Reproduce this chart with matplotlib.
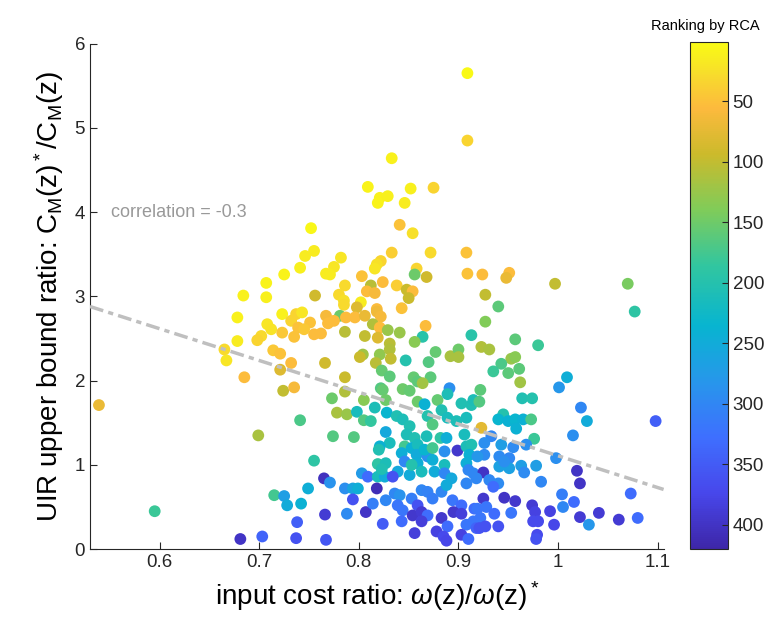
import numpy as np
import matplotlib
matplotlib.use("Agg")
import matplotlib.pyplot as plt
from matplotlib.colors import LinearSegmentedColormap

# --- Data: (input cost ratio, UIR bound ratio, RCA rank) ---
pts = [
    # top cluster
    (0.909, 5.65, 3), (0.909, 4.85, 35), (0.833, 4.64, 10), (0.809, 4.30, 8), (0.821, 4.17, 10),
    (0.829, 4.19, 12), (0.819, 4.11, 9), (0.852, 4.28, 12), (0.846, 4.11, 15), (0.875, 4.29, 35),
    # left upper group
    (0.707, 3.16, 8), (0.725, 3.26, 8), (0.684, 3.01, 10), (0.707, 2.99, 12), (0.678, 2.75, 10),
    (0.723, 2.79, 10), (0.708, 2.67, 20), (0.712, 2.61, 22), (0.702, 2.53, 30), (0.698, 2.48, 35),
    (0.723, 2.57, 45), (0.678, 2.47, 15), (0.665, 2.37, 30), (0.667, 2.24, 20), (0.714, 2.36, 45),
    (0.721, 2.32, 50), (0.721, 2.13, 80), (0.685, 2.04, 55),
    # far left / lower left
    (0.539, 1.71, 70), (0.699, 1.35, 115), (0.724, 1.88, 100), (0.595, 0.45, 180), (0.681, 0.12, 400),
    (0.703, 0.15, 340), (0.715, 0.64, 175), (0.725, 0.63, 270), (0.728, 0.52, 250),
    # middle upper
    (0.752, 3.81, 5), (0.841, 3.85, 50), (0.854, 3.75, 25), (0.746, 3.48, 15), (0.755, 3.54, 15),
    (0.741, 3.34, 12), (0.782, 3.46, 20), (0.775, 3.35, 20), (0.767, 3.27, 15), (0.771, 3.26, 15),
    (0.833, 3.52, 40), (0.872, 3.52, 30), (0.908, 3.52, 50), (0.822, 3.42, 35), (0.818, 3.38, 25),
    (0.816, 3.33, 20), (0.858, 3.33, 35), (0.909, 3.27, 50), (0.856, 3.26, 150), (0.868, 3.23, 90),
    (0.803, 3.24, 50), (0.786, 3.13, 30), (0.812, 3.13, 105), (0.824, 3.17, 55), (0.838, 3.13, 40),
    (0.848, 3.08, 95), (0.854, 3.06, 55), (0.850, 2.98, 95), (0.756, 3.01, 90), (0.780, 3.02, 30),
    (0.785, 2.95, 25), (0.808, 3.06, 55), (0.816, 3.04, 60), (0.802, 2.93, 15), (0.785, 2.90, 30),
    (0.798, 2.87, 80), (0.818, 2.85, 55), (0.843, 2.86, 50), (0.737, 2.79, 35), (0.743, 2.81, 20),
    (0.732, 2.71, 35), (0.767, 2.77, 60), (0.781, 2.77, 150), (0.787, 2.75, 55), (0.796, 2.75, 55),
    (0.806, 2.77, 70), (0.818, 2.82, 65), (0.822, 2.76, 60), (0.775, 2.71, 55), (0.769, 2.68, 55),
    (0.751, 2.69, 50), (0.739, 2.63, 50), (0.735, 2.52, 50), (0.755, 2.55, 55), (0.762, 2.56, 55),
    (0.745, 2.61, 45), (0.814, 2.67, 110), (0.821, 2.63, 55), (0.786, 2.58, 105), (0.806, 2.53, 100),
    (0.819, 2.51, 80), (0.829, 2.60, 125), (0.841, 2.57, 125), (0.867, 2.65, 55), (0.864, 2.52, 195),
    (0.856, 2.46, 135), (0.831, 2.44, 105), (0.913, 2.54, 195), (0.732, 2.21, 55), (0.766, 2.21, 90),
    (0.804, 2.31, 120), (0.801, 2.28, 95), (0.821, 2.31, 130), (0.817, 2.21, 105), (0.831, 2.37, 110),
    (0.832, 2.26, 100), (0.847, 2.24, 200), (0.870, 2.22, 165), (0.877, 2.34, 155), (0.892, 2.29, 115),
    (0.900, 2.37, 150), (0.900, 2.28, 115), (0.786, 2.04, 95), (0.823, 2.12, 155), (0.831, 2.05, 160),
    (0.855, 2.04, 155), (0.872, 2.04, 160), (0.859, 1.99, 160), (0.864, 1.97, 120), (0.822, 1.91, 165),
    (0.891, 1.91, 290), (0.735, 1.92, 60),
    # right upper
    (0.924, 3.26, 55), (0.951, 3.28, 55), (0.948, 3.22, 70), (0.997, 3.15, 100), (1.070, 3.15, 145),
    (1.077, 2.82, 190), (0.927, 3.02, 100), (0.940, 2.88, 160), (0.927, 2.70, 140), (0.957, 2.49, 160),
    (0.980, 2.42, 180), (0.923, 2.40, 110), (0.931, 2.37, 115), (0.953, 2.26, 125), (0.957, 2.28, 135),
    (0.943, 2.20, 170), (0.935, 2.11, 180), (0.950, 2.09, 160), (0.961, 2.14, 160), (0.962, 1.98, 120),
    (1.009, 2.04, 245), (1.001, 1.92, 280), (0.922, 1.89, 160),
    # dense middle-lower
    (0.773, 1.79, 150), (0.786, 1.87, 110), (0.778, 1.62, 115), (0.788, 1.60, 125), (0.805, 1.77, 135),
    (0.798, 1.63, 215), (0.824, 1.89, 155), (0.827, 1.77, 150), (0.741, 1.53, 170), (0.805, 1.53, 165),
    (0.812, 1.52, 185), (0.816, 1.68, 210), (0.828, 1.62, 235), (0.844, 1.90, 150), (0.851, 1.88, 155),
    (0.859, 1.75, 150), (0.866, 1.72, 240), (0.879, 1.77, 155), (0.889, 1.84, 210), (0.903, 1.73, 205),
    (0.913, 1.71, 205), (0.838, 1.58, 205), (0.844, 1.54, 210), (0.851, 1.46, 205), (0.869, 1.58, 200),
    (0.874, 1.48, 165), (0.883, 1.65, 205), (0.889, 1.56, 215), (0.898, 1.52, 210), (0.908, 1.56, 215),
    (0.882, 1.32, 190), (0.888, 1.32, 245), (0.906, 1.36, 215), (0.795, 1.33, 165), (0.774, 1.34, 165),
    (0.827, 1.39, 255), (0.831, 1.26, 215), (0.821, 1.22, 240), (0.820, 1.18, 205), (0.848, 1.36, 210),
    (0.856, 1.32, 205), (0.868, 1.34, 210), (0.846, 1.22, 175), (0.853, 1.20, 240), (0.859, 1.24, 215),
    (0.843, 1.14, 245), (0.858, 1.12, 250), (0.869, 1.10, 290), (0.866, 1.18, 235), (0.886, 1.16, 290),
    (0.899, 1.17, 395), (0.908, 1.22, 210), (0.913, 1.24, 205), (0.911, 1.12, 240), (0.755, 1.05, 190),
    (0.819, 1.01, 190), (0.827, 1.02, 210), (0.846, 1.04, 300), (0.859, 1.02, 245), (0.874, 1.06, 245),
    (0.886, 1.00, 215), (0.839, 0.92, 255), (0.851, 0.88, 250), (0.863, 0.92, 215), (0.876, 0.92, 250),
    (0.886, 0.90, 300), (0.893, 0.84, 255), (0.908, 1.02, 245), (0.910, 0.94, 300), (0.915, 0.90, 300),
    (0.803, 0.90, 275), (0.809, 0.86, 330), (0.819, 0.86, 215), (0.826, 0.86, 250), (0.834, 0.86, 360),
    (0.765, 0.84, 405), (0.771, 0.79, 285), (0.749, 0.72, 245), (0.742, 0.54, 240), (0.786, 0.72, 290),
    (0.794, 0.72, 260), (0.799, 0.72, 245), (0.818, 0.72, 410), (0.794, 0.59, 360), (0.807, 0.44, 400),
    (0.788, 0.42, 295), (0.766, 0.41, 390), (0.738, 0.32, 345), (0.737, 0.13, 360), (0.767, 0.11, 355),
    (0.824, 0.30, 350), (0.814, 0.54, 310), (0.827, 0.58, 300), (0.836, 0.66, 300), (0.841, 0.64, 285),
    (0.839, 0.52, 320), (0.844, 0.46, 320), (0.853, 0.60, 310), (0.863, 0.70, 300), (0.869, 0.68, 305),
    (0.883, 0.68, 300), (0.874, 0.60, 310), (0.859, 0.52, 360), (0.854, 0.40, 395), (0.863, 0.44, 390),
    (0.869, 0.40, 330), (0.883, 0.37, 395), (0.894, 0.58, 320), (0.903, 0.52, 330), (0.895, 0.44, 395),
    (0.903, 0.42, 385), (0.908, 0.29, 320), (0.889, 0.27, 330), (0.878, 0.21, 380), (0.885, 0.15, 370),
    (0.856, 0.19, 385), (0.863, 0.33, 385), (0.843, 0.33, 330), (0.903, 0.17, 380), (0.915, 0.33, 320),
    (0.916, 0.48, 330), (0.918, 0.25, 340), (0.874, 1.20, 175), (0.853, 1.00, 200), (0.888, 0.76, 250),
    (0.908, 0.78, 300), (0.823, 0.95, 205),
    # right lower
    (0.915, 1.77, 210), (0.921, 1.75, 165), (0.964, 1.79, 205), (0.974, 1.79, 200), (1.023, 1.68, 300),
    (1.029, 1.52, 250), (1.098, 1.52, 345), (0.945, 1.60, 200), (0.940, 1.54, 235), (0.950, 1.52, 240),
    (0.957, 1.54, 235), (0.965, 1.54, 240), (0.973, 1.54, 170), (0.958, 1.43, 240), (0.923, 1.44, 75),
    (0.976, 1.31, 180), (1.015, 1.35, 290), (0.933, 1.34, 300), (0.926, 1.26, 290), (0.943, 1.24, 270),
    (0.955, 1.21, 295), (0.968, 1.24, 290), (0.926, 1.12, 295), (0.919, 1.10, 280), (0.941, 1.10, 295),
    (0.951, 1.08, 300), (0.941, 0.98, 265), (0.951, 0.96, 265), (0.963, 0.99, 270), (0.966, 0.91, 295),
    (0.978, 0.99, 270), (0.998, 1.08, 290), (0.925, 0.91, 400), (1.019, 0.93, 400), (1.022, 0.78, 400),
    (0.918, 0.84, 300), (0.931, 0.82, 300), (0.940, 0.78, 295), (0.935, 0.74, 330), (0.983, 0.80, 300),
    (1.004, 0.65, 310), (1.016, 0.56, 330), (1.073, 0.66, 330), (1.005, 0.50, 300), (0.925, 0.60, 395),
    (0.946, 0.61, 400), (0.957, 0.57, 395), (0.919, 0.48, 320), (0.928, 0.50, 320), (0.936, 0.42, 330),
    (0.953, 0.43, 320), (0.974, 0.52, 390), (0.977, 0.44, 380), (0.975, 0.33, 370), (0.980, 0.33, 370),
    (0.992, 0.45, 380), (0.996, 0.29, 375), (1.022, 0.38, 390), (1.031, 0.29, 280), (1.041, 0.43, 390),
    (1.061, 0.35, 390), (1.080, 0.37, 330), (0.922, 0.37, 320), (0.921, 0.25, 360), (0.927, 0.27, 360),
    (0.940, 0.27, 360), (0.979, 0.17, 370), (0.978, 0.12, 360), (0.946, 1.04, 290), (0.888, 0.10, 375),
    (0.910, 0.12, 330),
]
cost_ratio = [p[0] for p in pts]
uir_ratio = [p[1] for p in pts]
rca_rank = [p[2] for p in pts]

# fitted trend line (slope, intercept) and correlation as shown
FIT_COEF = [-3.77, 4.878]
CORR_TEXT = "correlation = -0.3"
X_TICKS = [0.6, 0.7, 0.8, 0.9, 1.0, 1.1]
X_TICK_LABELS = ["0.6", "0.7", "0.8", "0.9", "1", "1.1"]
CB_TICKS = [50, 100, 150, 200, 250, 300, 350, 400]

# parula colormap samples (dark -> yellow)
parula_anchors = [
    (0.00, (0.2422, 0.1504, 0.6603)),
    (0.11, (0.2803, 0.2782, 0.9221)),
    (0.22, (0.2440, 0.4358, 0.9988)),
    (0.33, (0.1540, 0.5902, 0.9218)),
    (0.44, (0.0297, 0.7082, 0.8163)),
    (0.56, (0.1938, 0.7758, 0.6251)),
    (0.67, (0.5044, 0.7993, 0.3480)),
    (0.78, (0.8000, 0.7300, 0.1700)),
    (0.87, (0.9900, 0.7300, 0.2400)),
    (0.94, (0.9700, 0.8700, 0.1700)),
    (1.00, (0.9769, 0.9839, 0.0805)),
]
parula_r = LinearSegmentedColormap.from_list("parula_r", [(1 - t, c) for t, c in reversed(parula_anchors)])

plt.rcParams['font.family'] = ['Liberation Sans', 'DejaVu Sans']
plt.rcParams['mathtext.fontset'] = 'custom'
plt.rcParams['mathtext.rm'] = 'Liberation Sans'
plt.rcParams['mathtext.it'] = 'Liberation Sans:italic'

DARK = (0.15, 0.15, 0.15)

fig = plt.figure(figsize=(7.71, 6.24), dpi=100)
ax = fig.add_axes([0.1167, 0.120, 0.744, 0.810])

sc = ax.scatter(cost_ratio, uir_ratio, c=rca_rank, cmap=parula_r, vmin=1, vmax=420,
                s=72, edgecolors='none', zorder=2)

xl = np.array([0.53, 1.106])
ax.plot(xl, np.polyval(FIT_COEF, xl), color=(0.75, 0.75, 0.75), lw=2.5,
        dashes=(4, 1.5, 1.5, 1.5), zorder=3)
ax.text(0.551, 4.0, CORR_TEXT, color=(0.6, 0.6, 0.6), fontsize=13, va='center')

ax.set_xlim(0.53, 1.106)
ax.set_ylim(0, 6)
ax.set_xticks(X_TICKS)
ax.set_xticklabels(X_TICK_LABELS)
ax.set_yticks(range(7))
for side in ['top', 'right']:
    ax.spines[side].set_visible(False)
for side in ['left', 'bottom']:
    ax.spines[side].set_color(DARK)
ax.tick_params(direction='in', length=5, labelsize=13.5, colors=DARK)
ax.set_xlabel(r'input cost ratio: $\omega$(z)/$\omega$(z)$^*$', fontsize=20, labelpad=6)
ax.set_ylabel(r'UIR upper bound ratio: C$_\mathrm{M}$(z)$^*$/C$_\mathrm{M}$(z)', fontsize=20, labelpad=6)

cax = fig.add_axes([0.895, 0.120, 0.049, 0.813])
cb = fig.colorbar(sc, cax=cax)
cb.set_ticks(CB_TICKS)
cax.invert_yaxis()
cax.tick_params(direction='in', length=4, labelsize=13.5, colors=DARK)
cb.outline.set_edgecolor(DARK)
fig.text(0.915, 0.958, "Ranking by RCA", ha='center', va='center', fontsize=10.5)

fig.savefig("out.png", dpi=100)
